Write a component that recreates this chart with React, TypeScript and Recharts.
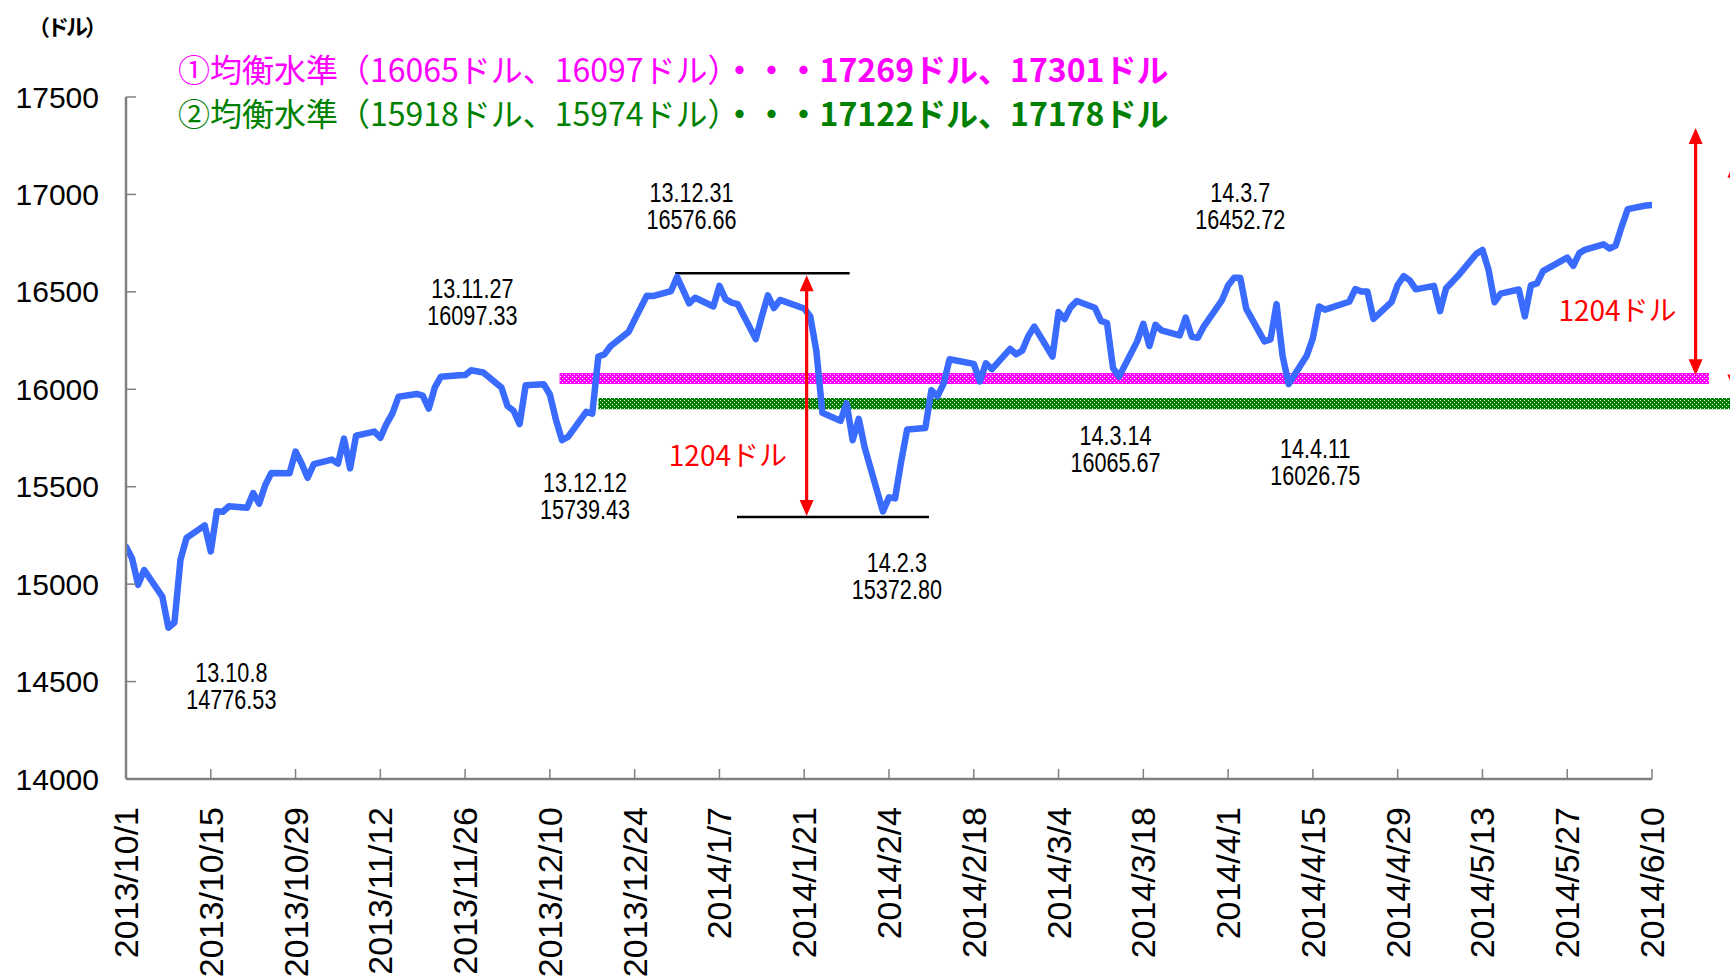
import React from 'react';
import { LineChart, Line, XAxis, YAxis, ReferenceArea, ReferenceLine, ReferenceDot } from 'recharts';

// ---- data ----
const tradeDates: string[] = [
  '2013/10/1','2013/10/2','2013/10/3','2013/10/4','2013/10/7','2013/10/8','2013/10/9','2013/10/10','2013/10/11','2013/10/14','2013/10/15','2013/10/16','2013/10/17','2013/10/18','2013/10/21','2013/10/22','2013/10/23','2013/10/24','2013/10/25','2013/10/28','2013/10/29','2013/10/30','2013/10/31',
  '2013/11/1','2013/11/4','2013/11/5','2013/11/6','2013/11/7','2013/11/8','2013/11/11','2013/11/12','2013/11/13','2013/11/14','2013/11/15','2013/11/18','2013/11/19','2013/11/20','2013/11/21','2013/11/22','2013/11/25','2013/11/26','2013/11/27','2013/11/29',
  '2013/12/2','2013/12/3','2013/12/4','2013/12/5','2013/12/6','2013/12/9','2013/12/10','2013/12/11','2013/12/12','2013/12/13','2013/12/16','2013/12/17','2013/12/18','2013/12/19','2013/12/20','2013/12/23','2013/12/24','2013/12/26','2013/12/27','2013/12/30','2013/12/31',
  '2014/1/2','2014/1/3','2014/1/6','2014/1/7','2014/1/8','2014/1/9','2014/1/10','2014/1/13','2014/1/14','2014/1/15','2014/1/16','2014/1/17','2014/1/21','2014/1/22','2014/1/23','2014/1/24','2014/1/27','2014/1/28','2014/1/29','2014/1/30','2014/1/31',
  '2014/2/3','2014/2/4','2014/2/5','2014/2/6','2014/2/7','2014/2/10','2014/2/11','2014/2/12','2014/2/13','2014/2/14','2014/2/18','2014/2/19','2014/2/20','2014/2/21','2014/2/24','2014/2/25','2014/2/26','2014/2/27','2014/2/28',
  '2014/3/3','2014/3/4','2014/3/5','2014/3/6','2014/3/7','2014/3/10','2014/3/11','2014/3/12','2014/3/13','2014/3/14','2014/3/17','2014/3/18','2014/3/19','2014/3/20','2014/3/21','2014/3/24','2014/3/25','2014/3/26','2014/3/27','2014/3/28','2014/3/31',
  '2014/4/1','2014/4/2','2014/4/3','2014/4/4','2014/4/7','2014/4/8','2014/4/9','2014/4/10','2014/4/11','2014/4/14','2014/4/15','2014/4/16','2014/4/17','2014/4/21','2014/4/22','2014/4/23','2014/4/24','2014/4/25','2014/4/28','2014/4/29','2014/4/30',
  '2014/5/1','2014/5/2','2014/5/5','2014/5/6','2014/5/7','2014/5/8','2014/5/9','2014/5/12','2014/5/13','2014/5/14','2014/5/15','2014/5/16','2014/5/19','2014/5/20','2014/5/21','2014/5/22','2014/5/23','2014/5/27','2014/5/28','2014/5/29','2014/5/30',
  '2014/6/2','2014/6/3','2014/6/4','2014/6/5','2014/6/6','2014/6/9','2014/6/10',
];

const closes: number[] = [
  15191.70,15133.14,14996.48,15072.58,14936.24,14776.53,14802.98,15126.07,15237.11,15301.26,15168.01,15373.83,15371.65,15399.65,15392.20,15467.66,15413.33,15509.21,15570.28,15568.93,15680.35,15618.76,15545.75,
  15615.55,15639.12,15618.22,15746.88,15593.98,15761.78,15783.10,15750.67,15821.63,15876.22,15961.70,15976.02,15967.03,15900.82,16009.99,16064.77,16072.54,16072.80,16097.33,16086.41,
  16008.77,15914.62,15889.77,15821.51,16020.20,16025.53,15973.13,15843.53,15739.43,15755.36,15884.57,15875.26,16167.97,16179.08,16221.14,16294.61,16357.55,16479.88,16478.41,16504.29,16576.66,
  16441.35,16469.99,16425.10,16530.94,16462.74,16444.76,16437.05,16257.94,16373.86,16481.94,16417.01,16458.56,16414.44,16373.34,16197.35,15879.11,15837.88,15928.56,15738.79,15848.61,15698.85,
  15372.80,15445.24,15440.23,15628.53,15794.08,15801.79,15994.77,15963.94,16027.59,16154.39,16130.40,16040.56,16133.23,16103.30,16207.14,16179.66,16198.41,16272.65,16321.71,
  16168.03,16395.88,16360.56,16421.89,16452.72,16418.68,16351.25,16340.08,16108.89,16065.67,16247.22,16336.19,16222.17,16331.05,16302.77,16276.69,16367.88,16268.99,16264.23,16323.06,16457.66,
  16532.61,16573.00,16572.55,16412.71,16245.87,16256.14,16437.18,16170.22,16026.75,16173.24,16262.56,16424.85,16408.54,16449.25,16514.37,16501.65,16501.65,16361.46,16448.74,16535.37,16580.84,
  16558.87,16512.89,16530.55,16401.02,16518.54,16550.97,16583.34,16695.47,16715.44,16613.97,16446.81,16491.31,16511.86,16374.31,16533.06,16543.08,16606.27,16675.50,16633.18,16698.74,16717.17,
  16743.63,16722.34,16737.53,16836.11,16924.28,16943.10,16945.92,
];

const xTickLabels: string[] = [
  '2013/10/1','2013/10/15','2013/10/29','2013/11/12','2013/11/26','2013/12/10','2013/12/24',
  '2014/1/7','2014/1/21','2014/2/4','2014/2/18','2014/3/4','2014/3/18','2014/4/1','2014/4/15',
  '2014/4/29','2014/5/13','2014/5/27','2014/6/10',
];
const yTicks: number[] = [14000, 14500, 15000, 15500, 16000, 16500, 17000, 17500];

const eq1: number[] = [16065, 16097];
const target1: number[] = [17269, 17301];
const eq2: number[] = [15918, 15974];
const target2: number[] = [17122, 17178];

const noteDates: string[] = ['13.10.8', '13.11.27', '13.12.12', '13.12.31', '14.2.3', '14.3.7', '14.3.14', '14.4.11'];
const noteValues: string[] = ['14776.53', '16097.33', '15739.43', '16576.66', '15372.80', '16452.72', '16065.67', '16026.75'];
const gapLabel = '1204ドル';

// ---- helpers ----
const START = Date.UTC(2013, 9, 1);
const dayOf = (s: string) => {
  const [y, m, d] = s.split('/').map(Number);
  return Math.round((Date.UTC(y, m - 1, d) - START) / 86400000);
};
const chartData = tradeDates.map((s, i) => ({ d: dayOf(s), v: closes[i] }));
const xTicks = xTickLabels.map(dayOf);
const X_END = dayOf('2014/6/10');

// layout anchors (day offset, value) for annotation text blocks
const noteAnchors: [number, number][] = [
  [17.4, 14480], [57.2, 16452], [75.8, 15455], [93.4, 16945],
  [127.3, 15042], [184, 16945], [163.4, 15698], [196.4, 15630],
];

const FONT_JP = "'Noto Sans CJK JP', 'Noto Sans', sans-serif";
const FONT_NUM = "'Liberation Sans', Arial, sans-serif";

const XTick = (props: any) => {
  const { x, y, payload } = props;
  const idx = xTicks.indexOf(payload.value);
  const label = idx >= 0 ? xTickLabels[idx] : '';
  return (
    <g transform={`translate(${x},${y})`}>
      <line x1={0} x2={0} y1={0} y2={-10} stroke="#808080" strokeWidth={1.5} />
      <text transform="rotate(-90)" x={-28} y={0} textAnchor="end" dominantBaseline="central"
        fontFamily={FONT_NUM} fontSize={34} fill="#000">{label}</text>
    </g>
  );
};

const YTick = (props: any) => {
  const { x, y, payload } = props;
  return (
    <g>
      <line x1={x} x2={x + 10} y1={y} y2={y} stroke="#808080" strokeWidth={1.5} />
      <text x={x - 27} y={y} textAnchor="end" dominantBaseline="central"
        fontFamily={FONT_NUM} fontSize={30} fill="#000">{payload.value}</text>
    </g>
  );
};

const noteShape = (i: number) => (p: any) => (
  <g transform={`translate(${p.cx},${p.cy}) scale(0.8,1)`}>
    <text x={0} y={-13} textAnchor="middle" dominantBaseline="central" fontFamily={FONT_NUM} fontSize={27} fill="#000">{noteDates[i]}</text>
    <text x={0} y={14} textAnchor="middle" dominantBaseline="central" fontFamily={FONT_NUM} fontSize={27} fill="#000">{noteValues[i]}</text>
  </g>
);

const gapShape = (p: any) => (
  <text x={p.cx} y={p.cy} textAnchor="middle" dominantBaseline="central" fontFamily={FONT_JP} fontSize={28} fill="#FF0000">{gapLabel}</text>
);

const arrowShape = (p: any) => {
  const x = p.x1;
  const top = Math.min(p.y1, p.y2);
  const bot = Math.max(p.y1, p.y2);
  const head = 16;
  const hw = 7;
  return (
    <g>
      <line x1={x} x2={x} y1={top + head - 2} y2={bot - head + 2} stroke="#FF0000" strokeWidth={3.2} />
      <polygon points={`${x},${top} ${x - hw},${top + head} ${x + hw},${top + head}`} fill="#FF0000" />
      <polygon points={`${x},${bot} ${x - hw},${bot - head} ${x + hw},${bot - head}`} fill="#FF0000" />
    </g>
  );
};

export default function App() {
  return (
    <div style={{ position: 'absolute', left: 0, top: 0, width: 1730, height: 979, background: '#fff', overflow: 'hidden' }}>
      <svg width={0} height={0} style={{ position: 'absolute' }}>
        <defs>
          <pattern id="pinkPat" width={4} height={4} patternUnits="userSpaceOnUse">
            <rect width={4} height={4} fill="#FF00FF" />
            <rect x={0} y={0} width={1} height={1} fill="#FFFFFF" />
            <rect x={2} y={2} width={1} height={1} fill="#FFFFFF" />
          </pattern>
          <pattern id="greenPat" width={4} height={4} patternUnits="userSpaceOnUse">
            <rect width={4} height={4} fill="#008000" />
            <rect x={0} y={0} width={1} height={1} fill="#FFFFFF" />
            <rect x={2} y={2} width={1} height={1} fill="#FFFFFF" />
          </pattern>
        </defs>
      </svg>
      <LineChart width={1730} height={979} data={chartData}
        margin={{ top: 97, right: 1730 - 1652, bottom: 0, left: 0 }}>
        <XAxis dataKey="d" type="number" domain={[0, X_END]} ticks={xTicks} interval={0}
          height={200} tickSize={0} tickMargin={0} tick={<XTick />}
          axisLine={{ stroke: '#808080', strokeWidth: 2.5 }} allowDataOverflow />
        <YAxis type="number" domain={[14000, 17500]} ticks={yTicks} interval={0}
          width={126} tickSize={0} tickMargin={0} tick={<YTick />}
          axisLine={{ stroke: '#808080', strokeWidth: 2.5 }} allowDataOverflow />
        <ReferenceArea x1={71.6} x2={261.4} y1={16027} y2={16083} fill="url(#pinkPat)" fillOpacity={1} stroke="none" ifOverflow="visible" />
        <ReferenceArea x1={78} x2={275} y1={15898} y2={15955} fill="url(#greenPat)" fillOpacity={1} stroke="none" ifOverflow="visible" />
        <ReferenceLine segment={[{ x: 90.7, y: 16595 }, { x: 119.5, y: 16595 }]} stroke="#000" strokeWidth={2.5} ifOverflow="visible" />
        <ReferenceLine segment={[{ x: 100.9, y: 15345 }, { x: 132.6, y: 15345 }]} stroke="#000" strokeWidth={2.5} ifOverflow="visible" />
        <Line dataKey="v" type="linear" stroke="#3A6BFF" strokeWidth={6.5} dot={false}
          strokeLinejoin="round" strokeLinecap="round" isAnimationActive={false} />
        <ReferenceLine segment={[{ x: 112.4, y: 16585 }, { x: 112.4, y: 15350 }]} shape={arrowShape} ifOverflow="visible" />
        <ReferenceLine segment={[{ x: 259.2, y: target1[1] + 40 }, { x: 259.2, y: eq1[1] - 25 }]} shape={arrowShape} ifOverflow="visible" />
        <ReferenceLine segment={[{ x: 265.6, y: target2[1] - 10 }, { x: 265.6, y: eq2[1] + 20 }]} shape={arrowShape} ifOverflow="visible" />
        {noteAnchors.map((a, i) => (
          <ReferenceDot key={i} x={a[0]} y={a[1]} r={0} shape={noteShape(i)} ifOverflow="visible" />
        ))}
        <ReferenceDot x={99.4} y={15670} r={0} shape={gapShape} ifOverflow="visible" />
        <ReferenceDot x={246.3} y={16412} r={0} shape={gapShape} ifOverflow="visible" />
      </LineChart>
      <svg width={1730} height={979} style={{ position: 'absolute', left: 0, top: 0, pointerEvents: 'none' }}>
        <text x={28} y={25} fontFamily={FONT_JP} fontSize={22} fontWeight="bold" letterSpacing={-3} fill="#000" dominantBaseline="central">（ドル）</text>
        <text x={178} y={68} fontFamily={FONT_JP} fontSize={32} fill="#FF00FF" dominantBaseline="central">
          {`①均衡水準（${eq1[0]}ドル、${eq1[1]}ドル）`}
          <tspan fontWeight="bold">{`・・・${target1[0]}ドル、${target1[1]}ドル`}</tspan>
        </text>
        <text x={178} y={112} fontFamily={FONT_JP} fontSize={32} fill="#008000" dominantBaseline="central">
          {`②均衡水準（${eq2[0]}ドル、${eq2[1]}ドル）`}
          <tspan fontWeight="bold">{`・・・${target2[0]}ドル、${target2[1]}ドル`}</tspan>
        </text>
      </svg>
    </div>
  );
}
